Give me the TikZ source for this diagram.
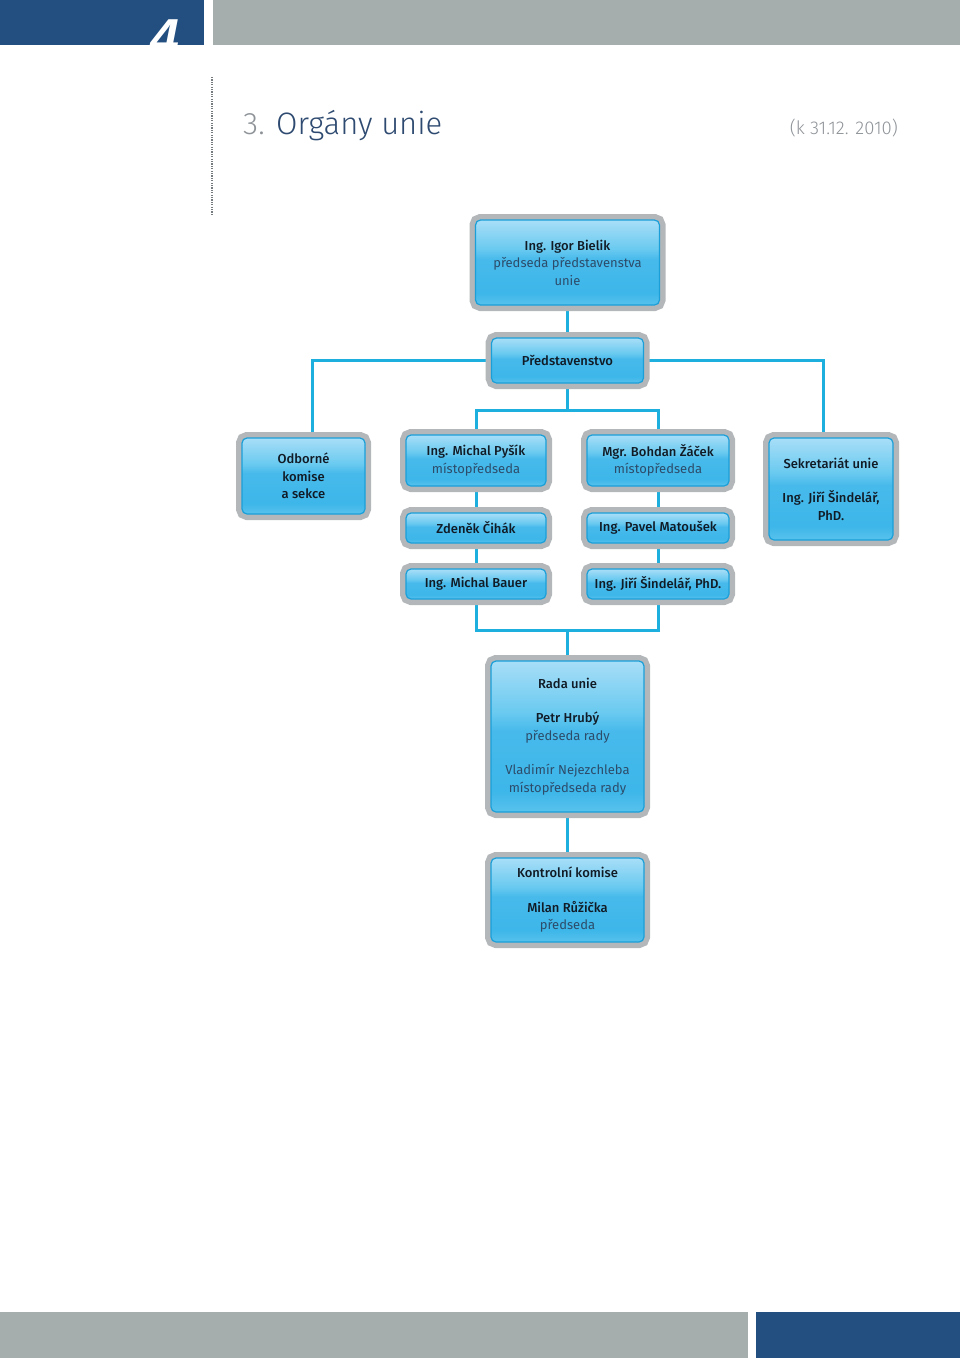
\documentclass[tikz,border=0pt]{standalone}
\usepackage{fontspec}
\setmainfont{Fira Sans}[BoldFont={Fira Sans Medium},BoldItalicFont={Fira Sans Bold Italic}]
\newfontfamily\titlefont{Fira Sans Light}
\newfontfamily\chapfont{Liberation Sans}
\usetikzlibrary{backgrounds}
\definecolor{unionblue}{HTML}{234F80}
\definecolor{uniongrey}{HTML}{A5ADAD}
\definecolor{orgline}{HTML}{1DB0DF}
\definecolor{orgframe}{HTML}{B3B7B9}
\definecolor{orgedge}{HTML}{1A9FD9}
\definecolor{orgname}{HTML}{111B26}
\definecolor{orgrole}{HTML}{2D4C6A}
\definecolor{titleblue}{HTML}{2E4A70}
\definecolor{titlegrey}{HTML}{8E9398}
\definecolor{dotgrey}{HTML}{767B80}
\definecolor{glosstop}{HTML}{A8DEF7}
\definecolor{glosshi}{HTML}{6ACAF0}
\definecolor{glossmid}{HTML}{47BAEB}
\definecolor{glosslow}{HTML}{3DB6E9}
\definecolor{glossbot}{HTML}{58C2ED}
\pgfdeclareverticalshading{orggloss}{100bp}{color(0bp)=(glossbot); color(25bp)=(glossbot);
  color(32bp)=(glosslow); color(52bp)=(glossmid); color(58bp)=(glosshi); color(75bp)=(glosstop); color(100bp)=(glosstop)}
\newcommand{\rolet}[1]{{\mdseries\color{orgrole}#1}}
\tikzset{
  orgbox/.style={rectangle, rounded corners=5pt, shade, shading=orggloss, draw=orgedge, line width=1.2pt,
                 text=orgname, align=center, inner sep=0pt, font=\fontsize{13}{17.5}\selectfont\bfseries,
                 preaction={draw=orgframe, line width=12pt}},
  orgwire/.style={orgline, line width=3pt},
}

\begin{document}
\begin{tikzpicture}[x=1pt,y=-1pt]
  \useasboundingbox (0,0) rectangle (960,1358);
  % page bars
  \fill[unionblue] (0,0) rectangle (204,45);
  \fill[uniongrey] (213,0) rectangle (960,45);
  \fill[uniongrey] (0,1312) rectangle (748,1358);
  \fill[unionblue] (756,1312) rectangle (960,1358);
  \begin{scope}
    \clip (0,0) rectangle (204,45);
    \node[anchor=base west, text=white, inner sep=0pt, font=\chapfont\bfseries\itshape\fontsize{52}{52}\selectfont] (chapno) at (150,55) {4};
  \end{scope}
  \draw[dotgrey, line width=1.2pt, dash pattern=on 1.2pt off 1.2pt] (212,77) -- (212,214);
  \node[anchor=base west, inner sep=0pt, font=\titlefont\fontsize{31}{31}\selectfont] (title) at (243,134)
    {\textcolor{titlegrey}{3.} \textcolor{titleblue}{Orgány unie}};
  \node[anchor=base east, inner sep=0pt, text=titlegrey, font=\titlefont\fontsize{18.5}{18.5}\selectfont] (date) at (898,134) {(k 31.12. 2010)};

  % boxes
  \node[orgbox, minimum width=184pt, minimum height=85pt] (boss) at (567.5,262.5)
    {Ing. Igor Bielik\\\rolet{předseda představenstva}\\\rolet{unie}};
  \node[orgbox, minimum width=152pt, minimum height=45pt] (board) at (567.5,360.5) {Představenstvo};
  \node[orgbox, minimum width=123pt, minimum height=76pt] (odborne) at (303.5,476) {Odborné\\komise\\a sekce};
  \node[orgbox, minimum width=140pt, minimum height=51pt] (pysik) at (476,460.5) {Ing. Michal Pyšík\\\rolet{místopředseda}};
  \node[orgbox, minimum width=142pt, minimum height=51pt] (zacek) at (658,460.5) {Mgr. Bohdan Žáček\\\rolet{místopředseda}};
  \node[orgbox, minimum width=140pt, minimum height=30pt] (cihak) at (476,528) {Zdeněk Čihák};
  \node[orgbox, minimum width=142pt, minimum height=30pt] (matousek) at (658,528) {Ing. Pavel Matoušek};
  \node[orgbox, minimum width=140pt, minimum height=30pt] (bauer) at (476,584) {Ing. Michal Bauer};
  \node[orgbox, minimum width=142pt, minimum height=30pt] (sindelar) at (658,584) {Ing. Jiří Šindelář, PhD.};
  \node[orgbox, minimum width=124pt, minimum height=102pt] (sekretariat) at (831,489)
    {Sekretariát unie\\[17pt]Ing. Jiří Šindelář,\\PhD.};
  \node[orgbox, minimum width=153pt, minimum height=151pt] (rada) at (567.5,736.5)
    {Rada unie\\[17pt]Petr Hrubý\\\rolet{předseda rady}\\[17pt]\rolet{Vladimír Nejezchleba}\\\rolet{místopředseda rady}};
  \node[orgbox, minimum width=153pt, minimum height=84pt] (kontrola) at (567.5,900)
    {Kontrolní komise\\[17pt]Milan Růžička\\\rolet{předseda}};

  % connectors
  \coordinate (split) at (567.5,410);
  \coordinate (merge) at (567.5,630);
  \begin{scope}[on background layer]
    \draw[orgwire] (boss) -- (board);
    \draw[orgwire] (board) -| ([xshift=8.5pt]odborne.north);
    \draw[orgwire] (board) -| ([xshift=-8pt]sekretariat.north);
    \draw[orgwire] (board) -- (split) -| (pysik);
    \draw[orgwire] (split) -| (zacek);
    \draw[orgwire] (pysik) -- (cihak) -- (bauer);
    \draw[orgwire] (zacek) -- (matousek) -- (sindelar);
    \draw[orgwire] (bauer) |- (merge) -| (sindelar);
    \draw[orgwire] (merge) -- (rada) -- (kontrola);
  \end{scope}
\end{tikzpicture}
\end{document}
